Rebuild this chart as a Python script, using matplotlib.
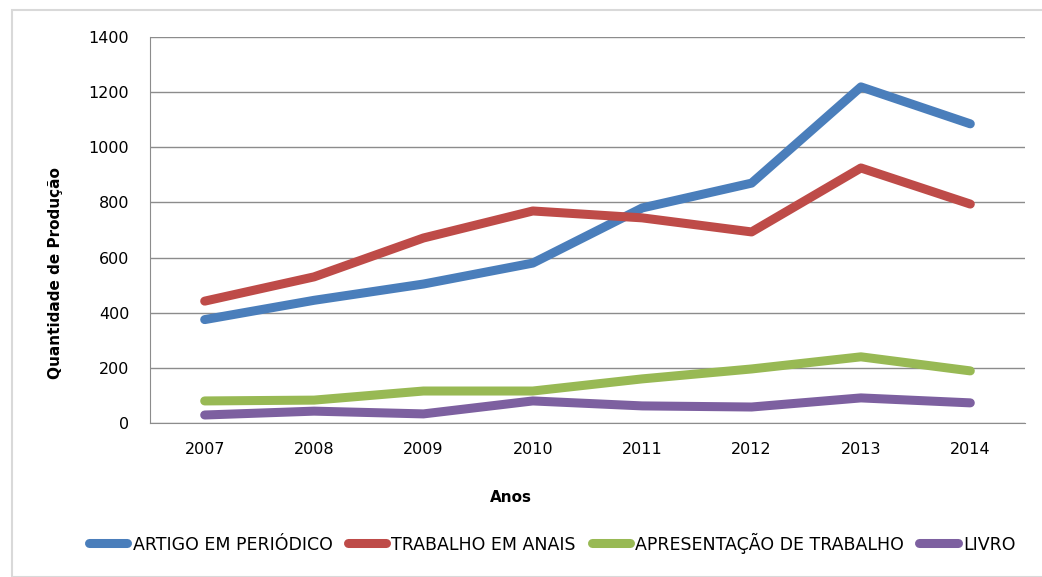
import matplotlib
matplotlib.use("Agg")
from matplotlib import pyplot as plt
from matplotlib.patches import Rectangle

years = ["2007", "2008", "2009", "2010", "2011", "2012", "2013", "2014"]
artigo = [375, 445, 504, 580, 780, 870, 1219, 1085]
trabalho_anais = [442, 530, 671, 769, 744, 693, 925, 794]
apresentacao = [80, 83, 116, 116, 160, 196, 240, 189]
livro = [29, 43, 33, 80, 62, 58, 91, 73]

series_names = ["ARTIGO EM PERIÓDICO", "TRABALHO EM ANAIS",
                "APRESENTAÇÃO DE TRABALHO", "LIVRO"]
colors = ["#4A7EBB", "#BE4B48", "#98B954", "#7D60A0"]

plt.rcParams['font.family'] = ['DejaVu Sans']

fig = plt.figure(figsize=(10.42, 5.77), dpi=100)
fig.patches.append(Rectangle((12 / 1042, 0.0), 1.0, 1 - 10 / 577, transform=fig.transFigure,
                             fill=False, edgecolor="#d9d9d9", linewidth=1.5))
ax = fig.add_axes([150 / 1042, 1 - 423 / 577, 875 / 1042, 386 / 577])

x = list(range(len(years)))
for vals, name, c in zip([artigo, trabalho_anais, apresentacao, livro], series_names, colors):
    ax.plot(x, vals, color=c, linewidth=6.5, solid_capstyle="round",
            solid_joinstyle="round", label=name)

ax.set_xlim(-0.5, len(years) - 0.5)
ax.set_ylim(0, 1400)
ax.set_yticks(range(0, 1401, 200))
ax.set_xticks(x)
ax.set_xticklabels(years)
ax.yaxis.grid(True, color="#8c8c8c", linewidth=1)
ax.set_axisbelow(True)
ax.tick_params(axis="both", length=0, labelsize=11.5, colors="black")
ax.tick_params(axis="x", pad=14)
ax.tick_params(axis="y", pad=15)
for side in ["top", "right"]:
    ax.spines[side].set_visible(False)
for side in ["left", "bottom"]:
    ax.spines[side].set_color("#8c8c8c")

ax.set_xlabel("Anos", fontsize=11, fontweight="bold")
ax.xaxis.set_label_coords((511 - 150) / 875, -(490 - 423) / 386)
ax.set_ylabel("Quantidade de Produção", fontsize=11, fontweight="bold")
ax.yaxis.set_label_coords(-(150 - 63) / 875, (423 - 273) / 386)

fig.legend(loc="center", bbox_to_anchor=(0.53, 1 - 543 / 577), ncol=4, frameon=False,
           fontsize=12.5, handlelength=2.2, handletextpad=0.3, columnspacing=0.9)

fig.savefig("out.png", dpi=100)
